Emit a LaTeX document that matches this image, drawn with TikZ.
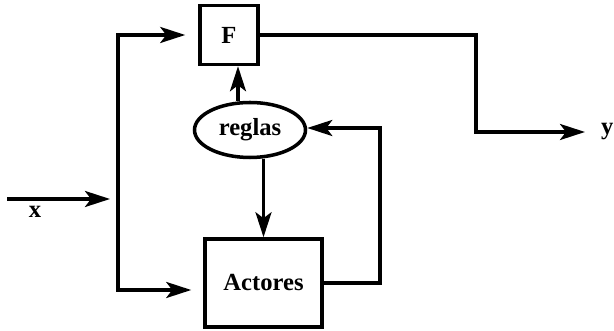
\documentclass[tikz,border=0pt]{standalone}
\usepackage{fontspec}
\setmainfont{Liberation Serif}
\usetikzlibrary{shapes.geometric,arrows.meta,positioning,calc}

\begin{document}
\begin{tikzpicture}[
  x=1cm, y=1cm,
  font=\fontsize{14}{16}\selectfont\bfseries,
  fblock/.style={rectangle, draw, line width=2pt, minimum width=1.16cm, minimum height=1.18cm, align=center},
  actblock/.style={rectangle, draw, line width=2pt, minimum width=2.34cm, minimum height=1.76cm, align=center},
  ruleblock/.style={ellipse, draw, line width=2pt, minimum width=2.22cm, minimum height=1.1cm, inner sep=0pt, align=center},
  arrow/.style={-{Stealth[length=5mm,width=3.2mm,inset=1.2mm]}, line width=2pt},
  darrow/.style={{Stealth[length=5mm,width=3.2mm,inset=1.2mm]}-{Stealth[length=5mm,width=3.2mm,inset=1.2mm]}, line width=2pt},
]
\useasboundingbox (0,0) rectangle (12.28,6.62);

\node[fblock] (F) at (4.58,5.92) {F};
\node[ruleblock] (reglas) at (5.0,4.02) {reglas};
\node[actblock] (act) at (5.27,0.96) {Actores};
\coordinate (xin) at (0.14,2.64);
\coordinate (bus) at (2.36,2.64);
\coordinate (yend) at (11.7,3.98);
\node (xlab) at (0.7,2.38) {x};
\node[right=0.2cm of yend] (ylab) {y};

% entrada
\draw[arrow, shorten >=0.16cm] (xin) -- (bus);
\draw[darrow, shorten <=0.26cm, shorten >=0.24cm] (F.west) -| (bus) |- ([yshift=-0.14cm]act.west);
% reglas
\draw[arrow] ([xshift=0.18cm]F.south |- reglas.north) -- ([xshift=0.18cm]F.south);
\draw[arrow] (act.north |- reglas.south) -- (act.north);
\draw[arrow] (act.east) -- ++(1.12,0) |- ([yshift=0.04cm]reglas.east);
% salida
\draw[arrow] (F.east) -- ++(4.32,0) |- (yend);

\end{tikzpicture}
\end{document}
